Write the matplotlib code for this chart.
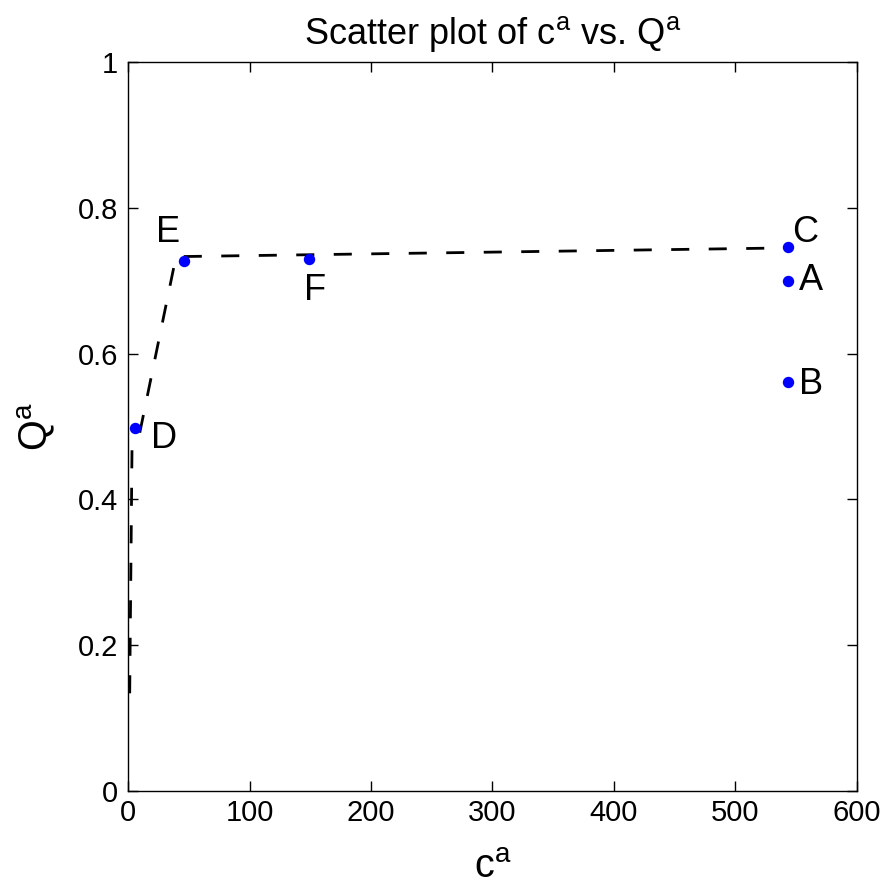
import matplotlib
matplotlib.use("Agg")
import matplotlib.pyplot as plt

plt.rcParams["font.family"] = ["Liberation Sans", "DejaVu Sans"]
plt.rcParams["mathtext.fontset"] = "custom"
plt.rcParams["mathtext.rm"] = "Liberation Sans"

# scatter points
labels = ["A", "B", "C", "D", "E", "F"]
cost = [543.5, 543.5, 543.5, 5.5, 45.9, 149]
quality = [0.699, 0.561, 0.7465, 0.498, 0.7264, 0.7296]

# dashed frontier
front_x = [1.4, 3.3, 9.5, 39.5, 543]
front_y = [0.134, 0.47, 0.49, 0.733, 0.745]

# label offsets (pixels, from point to text baseline-left)
offsets = {
    "A": (11, -9),
    "B": (11, -12),
    "C": (4, 5),
    "D": (16, -20),
    "E": (-28, 19),
    "F": (-5, -41),
}

fig = plt.figure(figsize=(8.93, 8.88), dpi=100)
ax = fig.add_axes([128 / 893, 1 - 791 / 888, 729 / 893, 729 / 888])

ax.plot(front_x, front_y, "k--", linewidth=2, dashes=(6.5, 7))
ax.plot(cost, quality, "o", color="#0000ff", markersize=7.2, linestyle="none")

for lab, cx, qy in zip(labels, cost, quality):
    dx, dy = offsets[lab]
    ax.annotate(lab, (cx, qy), xytext=(dx, dy), textcoords="offset pixels",
                ha="left", va="baseline", fontsize=26)

ax.set_xlim(0, 600)
ax.set_ylim(0, 1)
ax.set_xticks([0, 100, 200, 300, 400, 500, 600])
ax.set_yticks([0, 0.2, 0.4, 0.6, 0.8, 1])
ax.set_yticklabels(["0", "0.2", "0.4", "0.6", "0.8", "1"])
ax.tick_params(direction="in", top=True, right=True, length=7, width=1,
               labelsize=21)
ax.tick_params(axis="x", pad=6)
ax.tick_params(axis="y", pad=7)
for s in ax.spines.values():
    s.set_linewidth(1)

ax.set_xlabel(r"c$^{\mathrm{a}}$", fontsize=28.5, labelpad=15)
ax.set_ylabel(r"Q$^{\mathrm{a}}$", fontsize=28.5, labelpad=14)
ax.set_title(r"Scatter plot of c$^{\mathrm{a}}$ vs. Q$^{\mathrm{a}}$",
             fontsize=26, pad=13)

fig.savefig("out.png", dpi=100, facecolor="white")
